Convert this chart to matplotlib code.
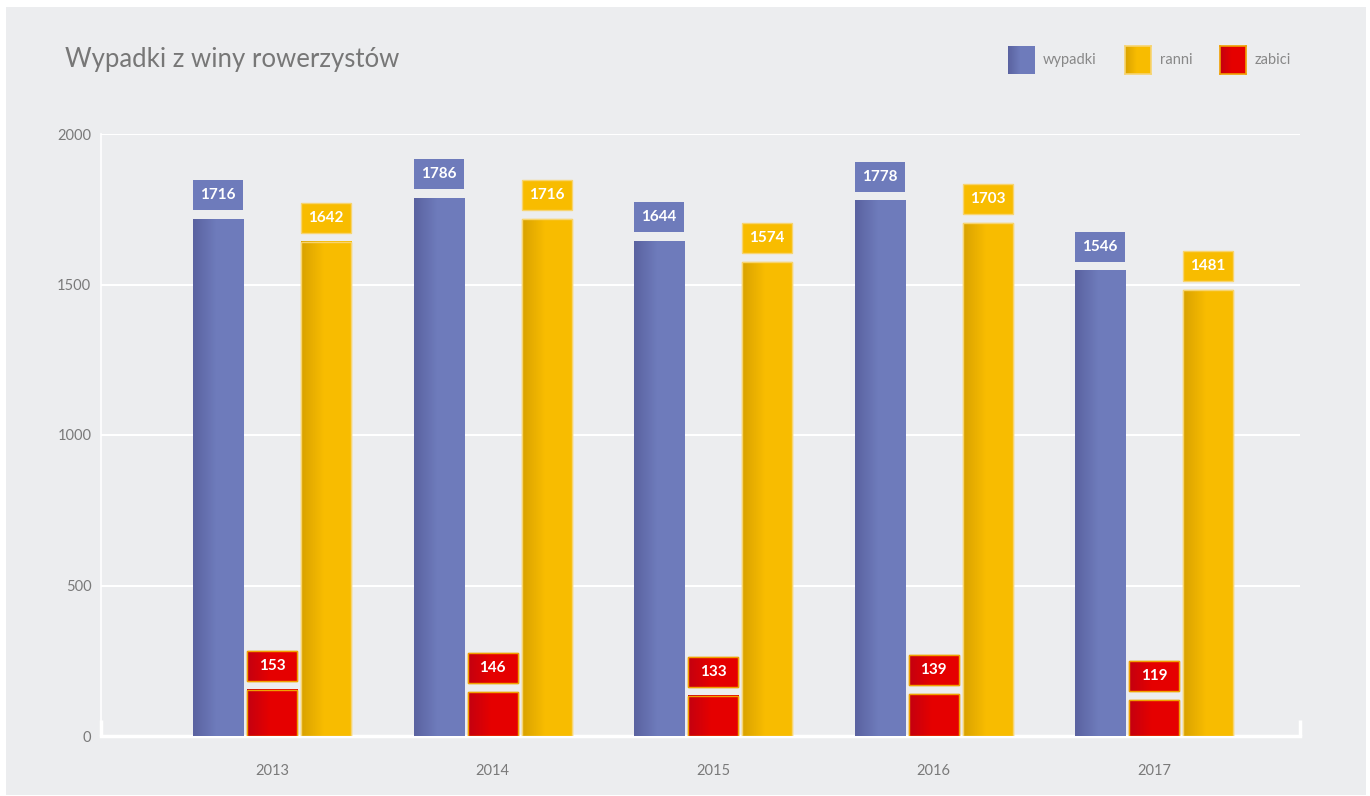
import numpy as np
import matplotlib.pyplot as plt
from matplotlib.colors import LinearSegmentedColormap
from matplotlib.patches import Rectangle

plt.rcParams['font.family'] = ['Lato', 'DejaVu Sans']

# Daten
lata = ['2013', '2014', '2015', '2016', '2017']
wypadki = [1716, 1786, 1644, 1778, 1546]
zabici = [153, 146, 133, 139, 119]
ranni = [1642, 1716, 1574, 1703, 1481]
serie_nazwy = ['wypadki', 'ranni', 'zabici']

W, H = 1370, 796
fig = plt.figure(figsize=(W / 100, H / 100), dpi=100)
fig.patch.set_facecolor('white')

# szare tlo
tlo = Rectangle((6 / W, 1 - 795 / H), 1360 / W, 788 / H, transform=fig.transFigure,
                facecolor='#ecedef', edgecolor='none', zorder=-10)
fig.patches.append(tlo)

ax = fig.add_axes([101 / W, 1 - 736 / H, 1199 / W, 602 / H])
ax.set_facecolor('none')

kolory = {
    'wypadki': ('#5a62a0', '#6e7bbb', 'none'),
    'ranni': ('#d9a200', '#f8bc00', '#f7d470'),
    'zabici': ('#c40010', '#e50000', '#f0a000'),
}


def gradient_cmap(ciemny, jasny):
    return LinearSegmentedColormap.from_list('g', [(0, ciemny), (0.45, jasny), (1, jasny)])


grad = np.linspace(0, 1, 200).reshape(1, -1)

x = np.arange(len(lata))
szer = 0.227
przes = 0.245
px = 2000 / 602  # jednostki danych na piksel
odstep = 9 * px
wys_ramki = 30 * px


def rysuj(xs, wartosci, nazwa, gradient_ramki):
    ciemny, jasny, krawedz = kolory[nazwa]
    cmap = gradient_cmap(ciemny, jasny)
    lw = 1.0 if krawedz != 'none' else 0
    bars = ax.bar(xs, wartosci, width=szer, color=jasny, edgecolor=krawedz,
                  linewidth=lw, zorder=3)
    for b, v in zip(bars, wartosci):
        x0 = b.get_x()
        ax.imshow(grad, cmap=cmap, aspect='auto', zorder=3.5,
                  extent=(x0, x0 + szer, 0, v), interpolation='nearest')
        if krawedz != 'none':
            ax.add_patch(Rectangle((x0, 0), szer, v, facecolor='none',
                                   edgecolor=krawedz, linewidth=lw, zorder=3.6))
        # ramka z wartoscia
        dol = v + odstep
        ax.add_patch(Rectangle((x0, dol), szer, wys_ramki, facecolor=jasny,
                               edgecolor=krawedz, linewidth=lw, zorder=4))
        if gradient_ramki:
            ax.imshow(grad, cmap=cmap, aspect='auto', zorder=4.5,
                      extent=(x0, x0 + szer, dol, dol + wys_ramki), interpolation='nearest')
            ax.add_patch(Rectangle((x0, dol), szer, wys_ramki, facecolor='none',
                                   edgecolor=krawedz, linewidth=lw, zorder=4.6))
        ax.text(x0 + szer / 2, dol + wys_ramki / 2, str(v), ha='center', va='center',
                color='white', fontsize=11, fontweight='bold', zorder=5)


rysuj(x - przes, wypadki, 'wypadki', False)
rysuj(x, zabici, 'zabici', True)
rysuj(x + przes, ranni, 'ranni', False)

ax.set_xlim(-0.776, 4.662)
ax.set_ylim(0, 2000)
ax.set_yticks([0, 500, 1000, 1500, 2000])
ax.set_xticks(x)
ax.set_xticklabels(lata)
ax.grid(axis='y', color='white', linewidth=1.5, zorder=1)
ax.set_axisbelow(True)
for s in ['top', 'right']:
    ax.spines[s].set_visible(False)
ax.spines['bottom'].set_color('white')
ax.spines['bottom'].set_linewidth(2.5)
ax.spines['left'].set_color('white')
ax.spines['left'].set_linewidth(1.2)
ax.tick_params(axis='both', length=0, colors='#7a7a7a', labelsize=10.5)
ax.tick_params(axis='y', pad=7)
ax.tick_params(axis='x', pad=20)
# koncowki osi
for xe in [-0.776, 4.662]:
    ax.plot([xe, xe], [0, 16 * px], color='white', linewidth=2.5, zorder=2,
            clip_on=False, solid_capstyle='butt')

fig.text(65 / W, 1 - 59 / H, 'Wypadki z winy rowerzystów', fontsize=18.5,
         color='#777777', va='center', ha='left')

# legenda
leg = [('wypadki', 1008, 1043), ('ranni', 1125, 1160), ('zabici', 1220, 1255)]
for nazwa, xk, xt in leg:
    ciemny, jasny, krawedz = kolory[nazwa]
    la = fig.add_axes([xk / W, 1 - 74 / H, 26 / W, 28 / H])
    la.imshow(grad, cmap=gradient_cmap(ciemny, jasny), aspect='auto',
              extent=(0, 1, 0, 1), interpolation='nearest')
    la.set_xlim(0, 1)
    la.set_ylim(0, 1)
    la.set_xticks([])
    la.set_yticks([])
    for s in la.spines.values():
        s.set_visible(krawedz != 'none')
        s.set_color(krawedz if krawedz != 'none' else 'white')
        s.set_linewidth(1.2)
    fig.text(xt / W, 1 - 60 / H, nazwa, fontsize=10.5, color='#888888',
             va='center', ha='left')

fig.savefig('out.png', dpi=100, facecolor=fig.get_facecolor())
